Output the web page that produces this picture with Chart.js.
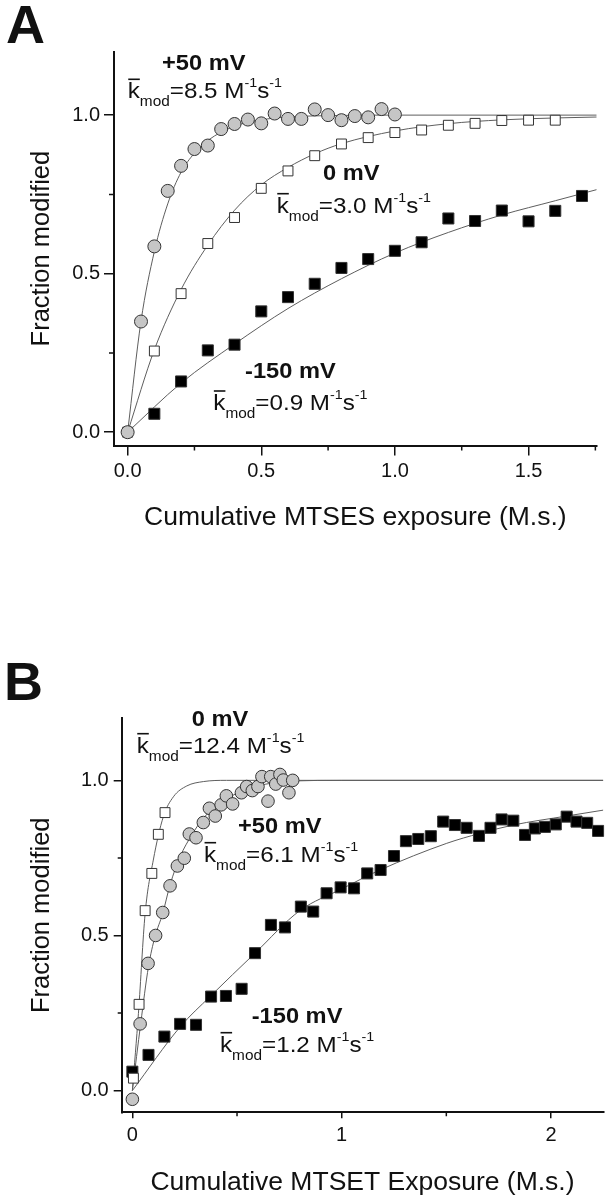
<!DOCTYPE html>
<html>
<head>
<meta charset="utf-8">
<script src="https://cdn.jsdelivr.net/npm/chart.js@4.4.1/dist/chart.umd.min.js"></script>
<style>
  body { margin: 0; background: #fff; }
  .panel { position: absolute; left: 0; width: 614px; }
  #wrapA { top: 0; height: 600px; }
  #wrapB { top: 600px; height: 599px; }
</style>
</head>
<body>
<div class="panel" id="wrapA"><canvas id="chartA" width="614" height="600"></canvas></div>
<div class="panel" id="wrapB"><canvas id="chartB" width="614" height="599"></canvas></div>
<script>
// ---- panel A : MTSES ----
const a50X = [0, 0.05, 0.1, 0.15, 0.2, 0.25, 0.3, 0.35, 0.4, 0.45, 0.5, 0.55, 0.6, 0.65, 0.7, 0.75, 0.8, 0.85, 0.9, 0.95, 1.0];
const a50Y = [0, 0.349, 0.586, 0.761, 0.84, 0.893, 0.904, 0.956, 0.972, 0.986, 0.974, 1.005, 0.988, 0.988, 1.018, 1.0, 0.984, 0.997, 0.993, 1.019, 1.002];
const a0X = [0, 0.1, 0.2, 0.3, 0.4, 0.5, 0.6, 0.7, 0.8, 0.9, 1.0, 1.1, 1.2, 1.3, 1.4, 1.5, 1.6];
const a0Y = [0, 0.256, 0.437, 0.595, 0.677, 0.769, 0.824, 0.872, 0.909, 0.929, 0.945, 0.953, 0.968, 0.974, 0.983, 0.984, 0.984];
const a150X = [0.1, 0.2, 0.3, 0.4, 0.5, 0.6, 0.7, 0.8, 0.9, 1.0, 1.1, 1.2, 1.3, 1.4, 1.5, 1.6, 1.7];
const a150Y = [0.058, 0.16, 0.258, 0.276, 0.381, 0.426, 0.468, 0.518, 0.546, 0.572, 0.599, 0.674, 0.666, 0.699, 0.665, 0.698, 0.745];

// fitted curves
const fitA50X = [0, 0.05, 0.1, 0.15, 0.2, 0.25, 0.3, 0.4, 0.5, 0.6, 0.8, 1.0, 1.4, 1.755];
const fitA50Y = [0, 0.35, 0.57, 0.72, 0.82, 0.88, 0.92, 0.965, 0.985, 0.994, 0.999, 1.0, 1.0, 1.0];
const fitA0X = [0, 0.1, 0.2, 0.3, 0.4, 0.5, 0.6, 0.7, 0.8, 1.0, 1.2, 1.4, 1.6, 1.755];
const fitA0Y = [0, 0.26, 0.45, 0.59, 0.7, 0.78, 0.835, 0.878, 0.91, 0.95, 0.973, 0.985, 0.991, 0.994];
const fitA150X = [0, 0.2, 0.4, 0.6, 0.8, 1.0, 1.2, 1.4, 1.6, 1.755];
const fitA150Y = [0, 0.155, 0.278, 0.39, 0.484, 0.565, 0.63, 0.685, 0.73, 0.765];

const aMinorX = [0.25, 0.75, 1.25, 1.75];
const aMinorY = [0.25, 0.75];

// ---- panel B : MTSET ----
const b0X = [0.005, 0.032, 0.061, 0.093, 0.124, 0.156];
const b0Y = [0.04, 0.278, 0.58, 0.7, 0.826, 0.896];
const b50X = [0, 0.037, 0.075, 0.111, 0.145, 0.18, 0.215, 0.248, 0.272, 0.304, 0.339, 0.368, 0.396, 0.424, 0.449, 0.479, 0.521, 0.546, 0.573, 0.6, 0.619, 0.648, 0.661, 0.685, 0.705, 0.721, 0.748, 0.766];
const b50Y = [-0.028, 0.215, 0.41, 0.5, 0.574, 0.66, 0.724, 0.749, 0.827, 0.815, 0.864, 0.91, 0.885, 0.921, 0.95, 0.924, 0.96, 0.98, 0.967, 0.98, 1.012, 0.933, 1.012, 0.988, 1.019, 1.001, 0.96, 1.0];
const b150X = [0, 0.077, 0.153, 0.228, 0.304, 0.376, 0.447, 0.522, 0.586, 0.662, 0.729, 0.805, 0.864, 0.928, 0.995, 1.059, 1.122, 1.186, 1.25, 1.307, 1.366, 1.426, 1.485, 1.541, 1.597, 1.656, 1.711, 1.764, 1.82, 1.876, 1.923, 1.971, 2.023, 2.075, 2.122, 2.173, 2.225];
const b150Y = [0.061, 0.115, 0.174, 0.215, 0.212, 0.303, 0.305, 0.328, 0.443, 0.534, 0.526, 0.593, 0.577, 0.636, 0.655, 0.652, 0.7, 0.711, 0.756, 0.804, 0.811, 0.82, 0.867, 0.856, 0.847, 0.821, 0.847, 0.874, 0.87, 0.824, 0.845, 0.85, 0.858, 0.883, 0.867, 0.863, 0.837];

const fitB0X = [0, 0.029, 0.061, 0.1, 0.148, 0.196, 0.26, 0.339, 0.45, 2.25];
const fitB0Y = [0, 0.249, 0.571, 0.743, 0.883, 0.947, 0.982, 0.996, 1.0, 1.0];
const fitB50X = [0, 0.04, 0.077, 0.108, 0.145, 0.18, 0.228, 0.284, 0.339, 0.419, 0.498, 0.578, 0.658, 0.769, 1.0, 2.25];
const fitB50Y = [0, 0.217, 0.4, 0.496, 0.571, 0.663, 0.754, 0.824, 0.878, 0.926, 0.958, 0.979, 0.99, 0.998, 1.0, 1.0];
const fitB150X = [0, 0.229, 0.371, 0.586, 0.8, 1.0, 1.183, 1.502, 1.66, 1.82, 2.075, 2.25];
const fitB150Y = [0, 0.206, 0.303, 0.443, 0.58, 0.65, 0.711, 0.797, 0.829, 0.856, 0.885, 0.904];

const bMinorX = [0.5, 1.5];
const bMinorY = [0.25, 0.75];

Chart.defaults.font.family = "'Liberation Sans', Arial, sans-serif";
Chart.defaults.color = "#111";

const pts = (xs, ys) => xs.map((x, i) => ({ x: x, y: ys[i] }));

function markers(xs, ys, style, radius, fill) {
  return {
    data: pts(xs, ys),
    showLine: false,
    pointStyle: style,
    pointRadius: radius,
    pointBackgroundColor: fill,
    pointBorderColor: "#333",
    pointBorderWidth: 1,
    clip: false,
  };
}

function fitLine(xs, ys) {
  return {
    data: pts(xs, ys),
    showLine: true,
    pointRadius: 0,
    borderColor: "#5e5e5e",
    borderWidth: 1,
    cubicInterpolationMode: "monotone",
    fill: false,
  };
}

// k-bar annotation : "k̄mod=8.5 M-1s-1"
function drawK(ctx, x, y, val) {
  const big = "22px 'Liberation Sans', Arial, sans-serif";
  const small = "14px 'Liberation Sans', Arial, sans-serif";
  const sup = "13px 'Liberation Sans', Arial, sans-serif";
  ctx.save();
  ctx.translate(x, y);
  ctx.scale(1.1, 1);
  ctx.textBaseline = "alphabetic";
  ctx.textAlign = "left";
  let cx = 0;
  ctx.font = big;
  const kw = ctx.measureText("k").width;
  ctx.fillText("k", cx, 0);
  ctx.beginPath();
  ctx.lineWidth = 1.6;
  ctx.strokeStyle = "#111";
  ctx.moveTo(cx + 0.5, -19);
  ctx.lineTo(cx + kw, -19);
  ctx.stroke();
  cx += kw;
  ctx.font = small;
  ctx.fillText("mod", cx, 8);
  cx += ctx.measureText("mod").width;
  ctx.font = big;
  ctx.fillText("=" + val + " M", cx, 0);
  cx += ctx.measureText("=" + val + " M").width;
  ctx.font = sup;
  ctx.fillText("-1", cx, -11);
  cx += ctx.measureText("-1").width;
  ctx.font = big;
  ctx.fillText("s", cx, 0);
  cx += ctx.measureText("s").width;
  ctx.font = sup;
  ctx.fillText("-1", cx, -11);
  ctx.restore();
}

function drawBold(ctx, x, y, text) {
  ctx.save();
  ctx.translate(x, y);
  ctx.scale(1.1, 1);
  ctx.font = "bold 21.5px 'Liberation Sans', Arial, sans-serif";
  ctx.textBaseline = "alphabetic";
  ctx.textAlign = "left";
  ctx.fillText(text, 0, 0);
  ctx.restore();
}

const extras = {
  id: "extras",
  afterDraw(chart, args, opts) {
    const ctx = chart.ctx;
    const xs = chart.scales.x;
    const ys = chart.scales.y;
    ctx.save();
    ctx.fillStyle = "#111";
    ctx.strokeStyle = "#111";
    ctx.lineWidth = 1.5;
    // minor ticks
    ctx.beginPath();
    opts.minorX.forEach((v) => {
      const p = xs.getPixelForValue(v);
      ctx.moveTo(p, xs.top);
      ctx.lineTo(p, xs.top + opts.minorLen);
    });
    opts.minorY.forEach((v) => {
      const p = ys.getPixelForValue(v);
      ctx.moveTo(ys.right, p);
      ctx.lineTo(ys.right - opts.minorLen, p);
    });
    ctx.stroke();
    // panel letter
    ctx.font = "bold 54px 'Liberation Sans', Arial, sans-serif";
    ctx.textBaseline = "alphabetic";
    ctx.fillText(opts.letter[0], opts.letter[1], opts.letter[2]);
    opts.labels.forEach((l) => drawBold(ctx, l[1], l[2], l[0]));
    opts.ks.forEach((k) => drawK(ctx, k[1], k[2], k[0]));
    ctx.restore();
  },
};

function axisCfg(min, max, step, fmt, tl, pad, fitSize, isX, title, titlePad) {
  return {
    type: "linear",
    min: min,
    max: max,
    ticks: {
      stepSize: step,
      includeBounds: false,
      padding: pad,
      font: { size: 20 },
      color: "#111",
      callback: (v) => fmt(v),
    },
    grid: {
      drawOnChartArea: false,
      drawTicks: true,
      tickLength: tl,
      color: "#111",
      lineWidth: 1.5,
    },
    border: { display: true, color: "#111", width: 2 },
    title: {
      display: true,
      text: title,
      font: { size: isX ? 26.5 : 25.5 },
      color: "#111",
      padding: titlePad,
    },
    afterFit: (scale) => {
      if (isX) scale.height = fitSize;
      else scale.width = fitSize;
    },
  };
}

const oneDec = (v) => v.toFixed(1);
const noDec = (v) => v.toFixed(0);

new Chart(document.getElementById("chartA"), {
  type: "scatter",
  data: {
    datasets: [
      markers(a50X, a50Y, "circle", 6.5, "#c6c6c6"),
      markers(a0X, a0Y, "rect", 7, "#ffffff"),
      markers(a150X, a150Y, "rect", 7.8, "#000000"),
      fitLine(fitA50X, fitA50Y),
      fitLine(fitA0X, fitA0Y),
      fitLine(fitA150X, fitA150Y),
    ],
  },
  options: {
    responsive: false,
    animation: false,
    layout: { padding: { top: 51.7, right: 17.3, left: 0, bottom: 0 } },
    plugins: {
      legend: { display: false },
      tooltip: { enabled: false },
      extras: {
        minorX: aMinorX,
        minorY: aMinorY,
        minorLen: 5,
        letter: ["A", 6, 43],
        labels: [["+50 mV", 162, 70], ["0 mV", 323, 180], ["-150 mV", 245, 378.3]],
        ks: [["8.5", 127.7, 98.3], ["3.0", 276.7, 212.7], ["0.9", 213.3, 410]],
      },
    },
    scales: {
      x: axisCfg(-0.051, 1.755, 0.5, oneDec, 10, 4.2, 154.5, true,
        "Cumulative MTSES exposure (M.s.)", { top: 0, bottom: 66 }),
      y: axisCfg(-0.042, 1.2, 0.5, oneDec, 10, 4, 114, false,
        "Fraction modified", { top: 26.5, bottom: 0 }),
    },
  },
  plugins: [extras],
});

new Chart(document.getElementById("chartB"), {
  type: "scatter",
  data: {
    datasets: [
      markers(b0X, b0Y, "rect", 7, "#ffffff"),
      markers(b50X, b50Y, "circle", 6.3, "#c6c6c6"),
      markers(b150X, b150Y, "rect", 7.8, "#000000"),
      fitLine(fitB0X, fitB0Y),
      fitLine(fitB50X, fitB50Y),
      fitLine(fitB150X, fitB150Y),
    ],
  },
  options: {
    responsive: false,
    animation: false,
    layout: { padding: { top: 118.3, right: 10.7, left: 0, bottom: 0 } },
    plugins: {
      legend: { display: false },
      tooltip: { enabled: false },
      extras: {
        minorX: bMinorX,
        minorY: bMinorY,
        minorLen: 4,
        letter: ["B", 4, 100],
        labels: [["0 mV", 191.7, 126], ["+50 mV", 238, 233.3], ["-150 mV", 251.7, 423.3]],
        ks: [["12.4", 136.7, 152.7], ["6.1", 204, 261.7], ["1.2", 220, 451.7]],
      },
    },
    scales: {
      x: axisCfg(-0.051, 2.25, 1, noDec, 6, 4.7, 86.7, true,
        "Cumulative MTSET Exposure (M.s.)", { top: 0, bottom: 0 }),
      y: axisCfg(-0.07, 1.2, 0.5, oneDec, 8, 5, 121.7, false,
        "Fraction modified", { top: 26.5, bottom: 0 }),
    },
  },
  plugins: [extras],
});
</script>
</body>
</html>
